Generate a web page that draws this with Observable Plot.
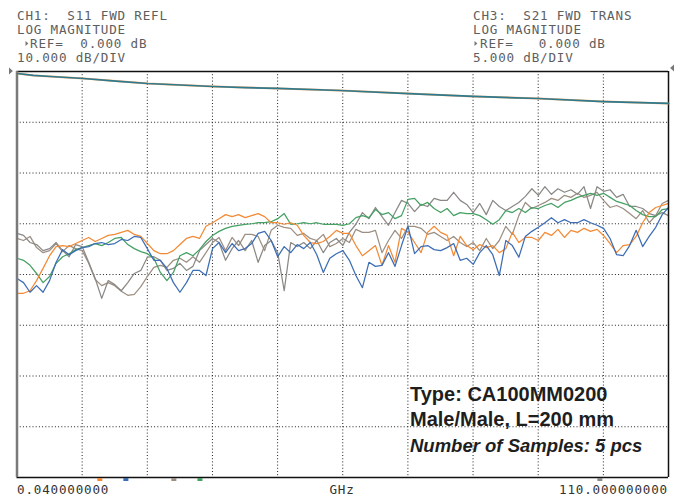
<!DOCTYPE html>
<html><head><meta charset="utf-8">
<script src="https://cdn.jsdelivr.net/npm/d3@7"></script>
<script src="https://cdn.jsdelivr.net/npm/@observablehq/plot@0.6"></script>
<style>
html,body{margin:0;padding:0;background:#fff;}
#chart{position:relative;width:674px;height:499px;}
#chart svg{position:absolute;left:0;top:0;}
</style></head><body><div id="chart"></div>
<script>
// ---- sweep grid (GHz) ----
const freqGHz = [0.04,1.14,2.24,3.34,4.44,5.54,6.64,7.74,8.84,9.94,
11.04,12.14,13.24,14.34,15.44,16.54,17.64,18.74,19.84,20.94,
22.04,23.14,24.24,25.34,26.44,27.54,28.64,29.74,30.84,31.94,
33.04,34.14,35.24,36.34,37.44,38.54,39.64,40.74,41.84,42.94,
44.04,45.14,46.24,47.34,48.44,49.54,50.64,51.74,52.84,53.94,
55.04,56.14,57.24,58.34,59.44,60.54,61.64,62.74,63.84,64.94,
66.04,67.14,68.24,69.34,70.44,71.54,72.64,73.74,74.84,75.94,
77.04,78.14,79.24,80.34,81.44,82.54,83.64,84.74,85.84,86.94,
88.04,89.14,90.24,91.34,92.44,93.54,94.64,95.74,96.84,97.94,
99.04,100.14,101.24,102.34,103.44,104.54,105.64,106.74,107.84,108.94,
110.00];

// ---- CH1 S11 (dB), 5 samples ----
const s11Orange = [-43.7,-43.7,-43.2,-41.2,-38.8,-36.3,-34.5,-34.3,-34.5,-33.9,
-33.3,-32.7,-33.5,-32.9,-32.3,-32.1,-31.7,-31.3,-32.1,-32.5,
-33.9,-35.3,-35.9,-35.9,-35.3,-34.1,-32.9,-32.5,-32.9,-30.5,
-29.8,-29.0,-28.2,-28.6,-28.2,-28.8,-28.4,-28.0,-28.6,-29.8,
-29.8,-30.1,-29.8,-30.3,-32.3,-33.7,-33.9,-33.5,-32.5,-31.3,
-31.9,-31.9,-34.3,-36.3,-35.3,-34.3,-38.2,-34.3,-37.6,-30.9,
-31.7,-33.7,-35.7,-31.7,-30.5,-31.7,-32.3,-36.3,-32.5,-34.3,
-35.1,-34.1,-34.7,-34.3,-35.7,-34.9,-31.7,-33.7,-32.7,-32.7,
-33.3,-31.7,-32.3,-31.1,-32.7,-31.3,-31.7,-30.9,-31.5,-31.1,
-32.3,-33.9,-35.7,-34.3,-34.1,-32.5,-29.8,-27.8,-26.8,-26.4,-26.0];

const s11Blue = [-40.8,-41.6,-43.5,-42.2,-43.5,-41.2,-37.6,-35.1,-36.1,-35.3,
-34.7,-34.5,-33.9,-33.7,-34.1,-33.9,-33.1,-33.3,-32.5,-32.7,
-34.9,-37.2,-37.2,-38.8,-41.6,-43.5,-41.6,-39.2,-39.2,-40.2,
-34.9,-33.7,-35.7,-33.9,-35.3,-34.9,-33.9,-31.9,-31.5,-33.3,
-36.5,-34.5,-35.7,-34.1,-34.9,-33.7,-36.1,-39.6,-36.8,-35.9,
-35.3,-37.2,-40.2,-42.6,-37.6,-38.4,-38.2,-35.7,-38.4,-34.3,
-30.5,-35.9,-34.5,-34.3,-35.1,-35.3,-34.7,-33.9,-37.2,-36.8,
-38.0,-35.7,-34.3,-36.1,-40.2,-33.3,-34.3,-36.6,-32.5,-31.5,
-30.7,-29.8,-28.8,-29.8,-29.2,-29.8,-29.8,-29.2,-29.8,-30.3,
-30.9,-32.9,-36.1,-36.3,-34.3,-31.3,-34.5,-32.5,-30.7,-28.2,-26.8];

const s11Green = [-36.8,-37.2,-38.2,-39.8,-41.6,-40.4,-37.8,-36.5,-35.9,-35.1,
-34.7,-34.3,-33.9,-34.3,-33.7,-32.9,-32.7,-34.1,-34.9,-35.5,
-35.9,-36.8,-39.6,-41.2,-39.6,-36.3,-35.7,-36.3,-35.1,-33.5,
-32.3,-31.5,-30.9,-30.5,-30.3,-30.1,-30.0,-29.8,-29.8,-29.6,
-29.0,-28.0,-30.1,-30.0,-29.8,-30.0,-29.8,-30.1,-30.1,-30.1,
-30.3,-30.0,-28.8,-28.4,-28.8,-27.2,-28.2,-27.8,-29.0,-28.4,
-25.2,-25.0,-26.4,-25.8,-27.0,-27.8,-27.0,-28.4,-27.8,-28.0,
-28.0,-28.4,-29.2,-30.1,-29.2,-27.4,-27.8,-27.0,-27.8,-26.8,
-27.0,-26.4,-26.0,-26.8,-25.8,-25.4,-24.8,-24.4,-24.0,-24.4,
-24.0,-24.8,-25.6,-26.0,-26.4,-27.4,-28.2,-28.6,-28.6,-27.2,-27.0];

const s11GrayA = [-31.9,-32.3,-33.7,-34.1,-35.3,-34.9,-33.7,-35.3,-36.5,-34.1,
-34.5,-37.6,-40.8,-44.7,-41.2,-42.0,-43.2,-41.6,-39.8,-39.2,
-36.6,-36.5,-37.2,-39.2,-38.8,-37.8,-39.2,-38.4,-35.3,-34.1,
-32.9,-33.7,-37.2,-34.9,-33.3,-35.3,-33.3,-37.6,-34.3,-33.3,
-35.7,-43.2,-33.7,-34.5,-33.7,-34.9,-33.3,-35.7,-33.7,-32.9,
-34.3,-31.7,-30.1,-27.8,-29.0,-26.8,-28.6,-30.3,-27.8,-25.4,
-26.0,-27.6,-26.2,-26.6,-25.0,-25.4,-25.4,-23.8,-25.4,-26.2,
-27.8,-26.0,-28.2,-25.4,-26.6,-27.4,-26.6,-25.8,-24.6,-23.1,
-24.4,-22.7,-24.2,-23.1,-23.8,-23.3,-24.2,-22.7,-27.0,-22.7,
-23.6,-23.3,-24.8,-24.2,-26.6,-26.6,-27.0,-28.0,-28.4,-27.8,-28.4];

const s11GrayB = [-32.9,-33.3,-32.5,-34.7,-35.7,-35.3,-33.9,-35.5,-34.3,-34.9,
-35.3,-37.8,-41.0,-42.2,-41.6,-42.2,-43.3,-44.1,-43.9,-42.4,
-40.4,-38.6,-38.2,-38.6,-37.2,-36.8,-37.6,-36.5,-37.6,-35.7,
-33.7,-32.7,-35.3,-32.7,-34.3,-32.1,-32.1,-32.5,-35.3,-31.3,
-30.3,-30.7,-30.9,-32.3,-31.9,-32.9,-33.3,-32.1,-34.5,-33.9,
-32.9,-33.7,-31.1,-31.7,-31.7,-31.3,-35.7,-33.3,-31.3,-32.9,
-30.5,-30.5,-30.9,-32.1,-31.7,-32.5,-33.3,-32.5,-33.7,-34.5,
-33.7,-35.3,-32.9,-34.9,-33.3,-30.5,-32.1,-28.4,-25.8,-27.0,
-26.4,-25.8,-25.0,-25.4,-24.4,-24.8,-24.0,-24.8,-24.4,-23.8,
-25.4,-26.8,-26.4,-27.0,-28.0,-29.0,-27.4,-29.8,-28.4,-26.0,-25.4];

// ---- CH3 S21 (dB), the 5 samples overlap ----
const s21Freq = [0.1,2.8,5.7,11.3,16.7,22.1,27.6,33.2,38.6,44.0,54.6,66.1,77.1,88.0,99.0,110.0];
const s21Db   = [-0.2,-0.39,-0.49,-0.69,-0.94,-1.18,-1.33,-1.48,-1.58,-1.67,-1.87,-2.17,-2.46,-2.66,-2.96,-3.15];

// ---- marker indicators under the grid (GHz) ----
const markerFreq = [14.1, 18.5, 26.6, 31.0, 98.5];
const markerColor = ["orange", "blue", "grayB", "green", "grayA"];

// ---- texts ----
const ch1Header = ["CH1:  S11 FWD REFL", "LOG MAGNITUDE", "REF=  0.000 dB", "10.000 dB/DIV"];
const ch3Header = ["CH3:  S21 FWD TRANS", "LOG MAGNITUDE", "REF=   0.000 dB", "5.000 dB/DIV"];
const xLabels = ["0.040000000", "GHz", "110.000000000"];
const noteLines = ["Type: CA100MM0200", "Male/Male, L=200 mm", "Number of Samples: 5 pcs"];

const colors = {orange: "#f38a35", blue: "#3c6db5", green: "#45a064", grayA: "#8b8985", grayB: "#9c8f83"};

const W = 674, H = 499, M = {top: 71, bottom: 22, left: 16.5, right: 6};
const xDomain = [0.04, 110];
const xGrid = d3.range(1, 10).map(k => xDomain[0] + k * (xDomain[1] - xDomain[0]) / 10);
const yGrid = d3.range(-70, 0, 10);

const line = (vals, stroke) => Plot.line(freqGHz, {x: d => d, y: (d, i) => vals[i], stroke, strokeWidth: 1.25, curve: "linear"});

const ch1 = Plot.plot({
  width: W, height: H,
  marginTop: M.top, marginBottom: M.bottom, marginLeft: M.left, marginRight: M.right,
  x: {domain: xDomain, axis: null},
  y: {domain: [-80, 0], axis: null},
  style: {background: "#fff", overflow: "visible"},
  marks: [
    Plot.ruleX(xGrid, {stroke: "#222", strokeDasharray: "1,2.2", strokeWidth: 1}),
    Plot.ruleY(yGrid, {stroke: "#222", strokeDasharray: "1,2.2", strokeWidth: 1}),
    line(s11GrayB, colors.grayB),
    line(s11GrayA, colors.grayA),
    line(s11Green, colors.green),
    line(s11Orange, colors.orange),
    line(s11Blue, colors.blue),
    Plot.ruleY([0, -80], {stroke: "#111", strokeWidth: 1.5}),
    Plot.ruleX([110], {stroke: "#111", strokeWidth: 1.5}),
    Plot.ruleX([0.04], {stroke: "#7a7a7a", strokeWidth: 2.5})
  ]
});

const ch3 = Plot.plot({
  width: W, height: H,
  marginTop: M.top, marginBottom: M.bottom, marginLeft: M.left, marginRight: M.right,
  x: {domain: xDomain, axis: null},
  y: {domain: [-40, 0], axis: null},
  style: {background: "transparent", overflow: "visible"},
  marks: [
    Plot.line(s21Freq, {x: d => d, y: (d, i) => s21Db[i], stroke: colors.orange, strokeWidth: 2.0, strokeOpacity: 0.7}),
    Plot.line(s21Freq, {x: d => d, y: (d, i) => s21Db[i], stroke: "#2e7a8e", strokeWidth: 1.7})
  ]
});

const chart = document.getElementById("chart");
chart.appendChild(ch1);
chart.appendChild(ch3);

const svg = d3.select(ch1);
const xs = ch1.scale("x"), ys = ch1.scale("y");
const yBottom = ys.apply(-80);
markerFreq.forEach((f, i) => svg.append("rect")
  .attr("x", xs.apply(f) - 2.5).attr("y", yBottom + 1)
  .attr("width", 5).attr("height", 3)
  .attr("fill", colors[markerColor[i]]));

const mono = "'DejaVu Sans Mono', 'Liberation Mono', monospace";
const addText = (x, y, t, opts = {}) => svg.append("text")
  .attr("x", x).attr("y", y).text(t)
  .attr("font-family", opts.family || mono)
  .attr("font-size", opts.size || 12.6)
  .attr("letter-spacing", opts.ls != null ? opts.ls : 0.8)
  .attr("font-weight", opts.weight || "normal")
  .attr("font-style", opts.style || "normal")
  .attr("fill", opts.fill || "#5e5e5e")
  .attr("text-anchor", opts.anchor || "start")
  .style("white-space", "pre");

const hdrY = [20, 34, 48, 62];
ch1Header.forEach((t, i) => addText(i === 2 ? 30 : 17, hdrY[i], t));
ch3Header.forEach((t, i) => addText(i === 2 ? 480 : 473, hdrY[i], t));
const tri = (x, y, dir, s) => svg.append("path")
  .attr("d", dir > 0 ? `M${x},${y - s}L${x + s * 1.1},${y}L${x},${y + s}Z` : `M${x},${y - s}L${x - s * 1.1},${y}L${x},${y + s}Z`)
  .attr("fill", "#777");
tri(25.5, 43.5, 1, 2.6);
tri(474.5, 43.5, 1, 2.6);
// reference-position markers at 0 dB
const y0 = ys.apply(0);
tri(9, y0, 1, 3.5);
tri(674, y0 - 3, -1, 3.5);

addText(17, 494, xLabels[0], {fill: "#333"});
addText(342, 494, xLabels[1], {fill: "#333", anchor: "middle"});
addText(668, 494, xLabels[2], {fill: "#333", anchor: "end"});

const sans = "'Liberation Sans', Arial, sans-serif";
addText(410, 401, noteLines[0], {family: sans, size: 20, weight: "bold", fill: "#1e1e1e", ls: 0});
addText(410, 426, noteLines[1], {family: sans, size: 20, weight: "bold", fill: "#1e1e1e", ls: 0});
addText(410, 452, noteLines[2], {family: sans, size: 18.5, weight: "bold", style: "italic", fill: "#1e1e1e", ls: 0});
</script></body></html>
